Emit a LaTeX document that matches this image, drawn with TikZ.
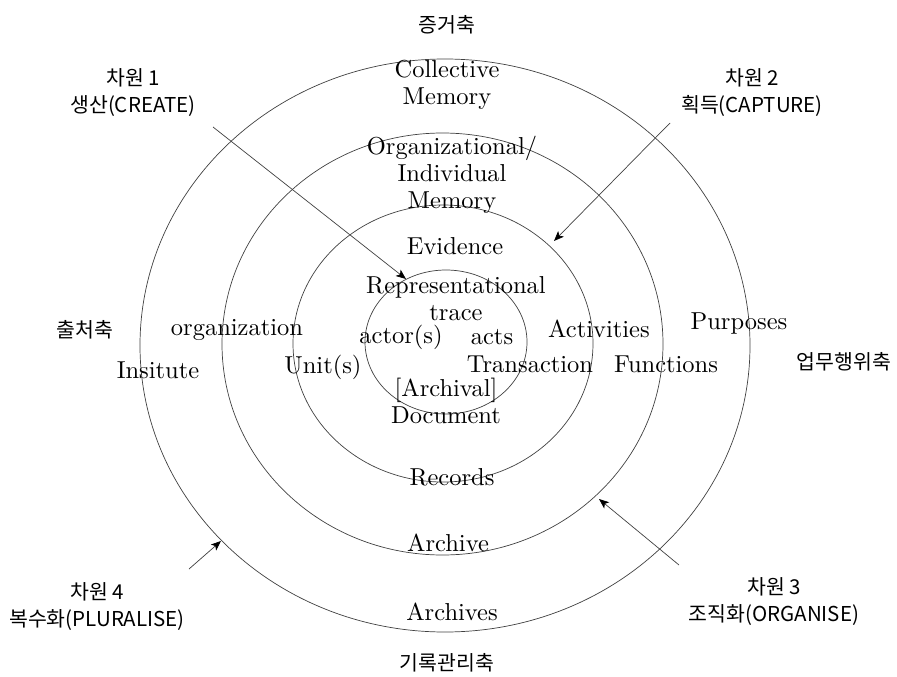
\documentclass[tikz,border=0pt]{standalone}
\usepackage{fontspec}
\newfontfamily\kr{Noto Sans CJK KR}
\newfontfamily\lmten{lmroman10-regular.otf}
\usetikzlibrary{arrows.meta}
\tikzset{
  ring/.style={draw=black!75, line width=0.7pt},
  en/.style={font=\lmten\fontsize{24.5}{27}\selectfont, inner sep=0pt, align=center},
  ko/.style={font=\kr\fontsize{20.5}{27}\selectfont, inner sep=0pt, align=center},
  pointer/.style={draw=black!75, line width=0.7pt, -{Stealth[length=10pt,width=8pt,inset=2.5pt,black]}}
}
\begin{document}
\begin{tikzpicture}[x=1pt,y=-1pt]
\useasboundingbox (0,0) rectangle (897,677);
% rings
\draw[ring] (445,345.5) ellipse [x radius=305pt, y radius=286.5pt];
\draw[ring] (442.5,344) ellipse [x radius=220.5pt, y radius=211pt];
\draw[ring] (443,343.5) ellipse [x radius=150pt, y radius=138.5pt];
\draw[ring] (446,342) ellipse [x radius=81pt, y radius=72pt];
% axis labels
\node[ko] (ax1) at (447,25) {증거축};
\node[ko] (ax2) at (85,330) {출처축};
\node[ko] (ax3) at (844,362) {업무행위축};
\node[ko] (ax4) at (447,663) {기록관리축};
% dimension labels
\node[ko] (d1) at (133,93) {차원 1\\생산(CREATE)};
\node[ko] (d2) at (752,93) {차원 2\\획득(CAPTURE)};
\node[ko] (d3) at (774,602) {차원 3\\조직화(ORGANISE)};
\node[ko] (d4) at (97,607) {차원 4\\복수화(PLURALISE)};
% ring texts
\node[en] (t1) at (447,85) {Collective\\Memory};
\node[en] (t2) at (452,175) {Organizational/\\Individual\\Memory};
\node[en] (t3) at (455,246) {Evidence};
\node[en] (t4) at (456,299) {Representational\\trace};
\node[en] (t5) at (401,337) {actor(s)};
\node[en] (t6) at (492,337) {acts};
\node[en] (t7) at (530,364) {Transaction};
\node[en] (t8) at (446,401) {[Archival]\\Document};
\node[en] (t9) at (323,367) {Unit(s)};
\node[en] (t10) at (237,330) {organization};
\node[en] (t11) at (158,370) {Insitute};
\node[en] (t12) at (599,329) {Activities};
\node[en] (t13) at (739,324) {Purposes};
\node[en] (t14) at (666,364) {Functions};
\node[en] (t15) at (452,477) {Records};
\node[en] (t16) at (448,543) {Archive};
\node[en] (t17) at (452,612) {Archives};
% arrows
\coordinate (a1s) at (213,127); \coordinate (a1e) at (406,279);
\coordinate (a2s) at (670,123); \coordinate (a2e) at (554,241);
\coordinate (a3s) at (679,565); \coordinate (a3e) at (599,499);
\coordinate (a4s) at (189,569); \coordinate (a4e) at (221,541);
\draw[pointer] (a1s) -- (a1e);
\draw[pointer] (a2s) -- (a2e);
\draw[pointer] (a3s) -- (a3e);
\draw[pointer] (a4s) -- (a4e);
\end{tikzpicture}
\end{document}
